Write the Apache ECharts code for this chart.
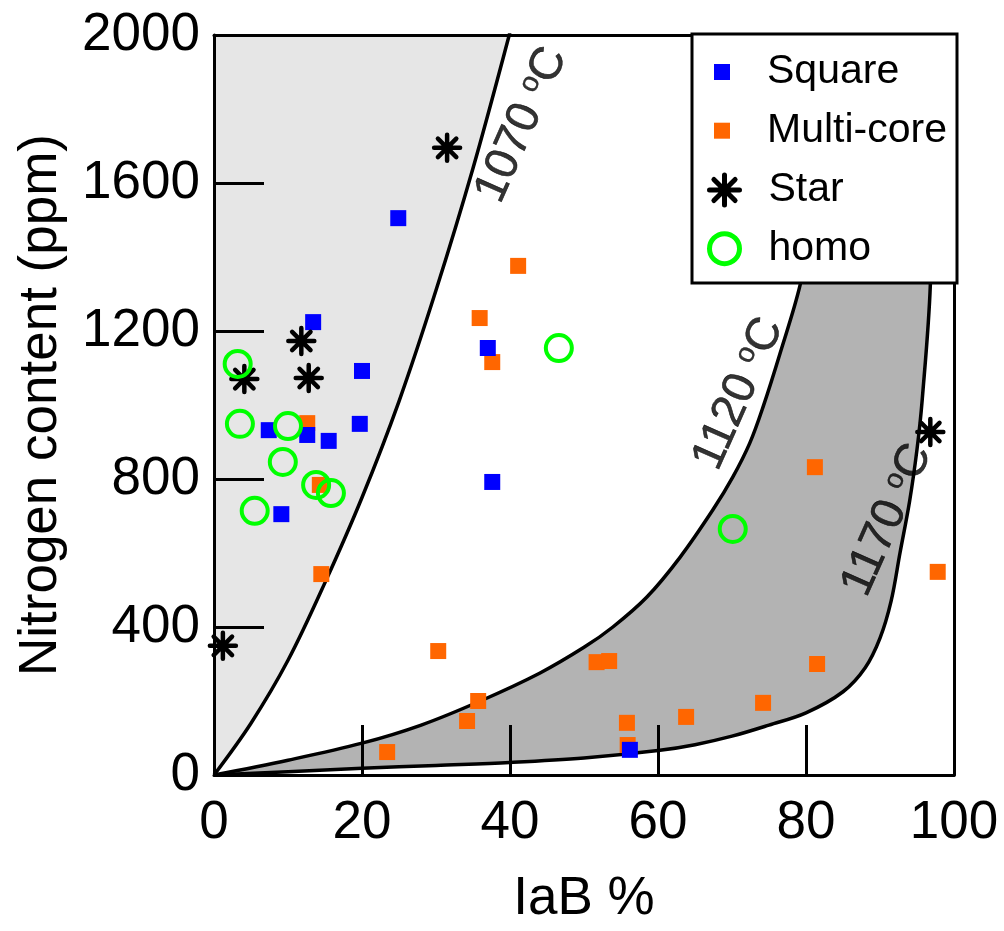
<!DOCTYPE html>
<html lang="en">
<head>
    <meta charset="UTF-8">
    <title>IaB vs nitrogen</title>
    <style>
        html, body { margin: 0; padding: 0; background: #fff; }
    </style>
</head>
<body>
<div id="chart" style="width: 1004px; height: 931px"></div>
<script src="https://cdn.jsdelivr.net/npm/echarts@6/dist/echarts.min.js"></script>
<script>
    // scatter data: [IaB %, N ppm]
    var squarePts = [[24.9,1505],[13.4,1224],[20.0,1092],[19.7,949],[7.4,932],[12.6,919],[15.5,903],[9.1,705],[37.0,1154],[37.6,792],[56.2,68]];
    var multiPts = [[41.1,1376],[35.9,1235],[37.6,1116],[12.6,951],[14.3,784],[14.5,543],[30.3,335],[35.7,200],[34.2,146],[23.4,62],
        [51.7,305],[53.4,308],[55.8,141],[55.9,81],[63.8,157],[74.2,195],[81.5,300],[81.2,832],[97.8,549]];
    var starPts = [[31.5,1695],[11.8,1173],[4.1,1070],[12.8,1073],[1.2,349],[96.8,927]];
    var homoPts = [[3.2,1111],[3.5,949],[10.0,943],[9.3,846],[13.8,784],[15.8,762],[5.5,714],[46.6,1154],[70.1,665]];

    // isotherms (past the top edge they run on outside the frame, clipped)
    var curve1070 = [[0,0],[5,140],[10,310],[15,520],[20,750],[25,1010],[30,1310],[35,1640],[39.9,2000],[41,2090],[100,2090]];
    var curve1120 = [[0,0],[10,40],[20,86],[28,135],[36,200],[44,275],[50,345],[53.9,400],[58.5,481],[63,589],[67.4,716],
        [70.1,805],[72.4,897],[74.2,995],[76.5,1140],[79.2,1324],[82,1600],[84.5,2000],[100,2000]];
    var curve1170 = [[0,0],[10,9],[20,18],[30,26],[40,34],[50,46],[60,66],[65,82],[70,105],[75,135],[80,168],[85,225],[88,290],[90,370],[91.5,470],
        [92.7,600],[94,740],[95,880],[95.7,1013],[96.8,1324],[97.5,2000],[100,2000]];
    var lightTop = [[0,2000],[39.9,2000]];

    var curveNames = ['1070', '1120', '1170'];
    var curveLabelPos = [[41.6,1757],[70.9,1030],[91.0,689]];

    var xTicks = [0, 20, 40, 60, 80, 100];
    var yTicks = [0, 400, 800, 1200, 1600, 2000];

    var FONT = "'Liberation Sans', Arial, sans-serif";
    var starPath = 'path://M0,10L20,10M10,0L10,20M2.93,2.93L17.07,17.07M17.07,2.93L2.93,17.07';

    var chart = echarts.init(document.getElementById('chart'));

    function curveSeries(name, data, fill) {
        return {
            name: name,
            type: 'line',
            data: data,
            z: 1,
            smooth: 0.35,
            symbol: 'none',
            silent: true,
            lineStyle: {color: '#000', width: 3.5},
            areaStyle: {color: fill, opacity: 1}
        };
    }

    var labelData = [];
    for (var i in curveNames) {
        labelData.push({name: curveNames[i], value: curveLabelPos[i]});
    }

    var option = {
        animation: false,
        backgroundColor: '#fff',
        textStyle: {fontFamily: FONT},
        grid: {left: 214, right: 50, top: 35, bottom: 156},
        xAxis: [{
            type: 'value', min: xTicks[0], max: xTicks[xTicks.length - 1], interval: 20, z: 2,
            name: 'IaB %', nameLocation: 'middle', nameGap: 98,
            nameTextStyle: {fontSize: 53, color: '#000', fontFamily: FONT},
            axisLine: {lineStyle: {color: '#000', width: 3}},
            axisTick: {inside: true, length: 50, lineStyle: {color: '#000', width: 3}},
            axisLabel: {fontSize: 53, color: '#000', margin: 22, fontFamily: FONT,
                formatter: function (v) { return String(v); }},
            splitLine: {show: false}
        }, {
            type: 'value', min: 0, max: 100, position: 'top', z: 2,
            axisLine: {onZero: false, lineStyle: {color: '#000', width: 3}},
            axisTick: {show: false}, axisLabel: {show: false}, splitLine: {show: false}
        }],
        yAxis: [{
            type: 'value', min: yTicks[0], max: yTicks[yTicks.length - 1], interval: 400, z: 2,
            name: 'Nitrogen content (ppm)', nameLocation: 'middle', nameGap: 146,
            nameTextStyle: {fontSize: 53, color: '#000', fontFamily: FONT},
            axisLine: {show: true, lineStyle: {color: '#000', width: 3}},
            axisTick: {show: true, inside: true, length: 50, lineStyle: {color: '#000', width: 3}},
            axisLabel: {fontSize: 53, color: '#000', margin: 14, fontFamily: FONT,
                formatter: function (v) { return String(v); }},
            splitLine: {show: false}
        }, {
            type: 'value', min: 0, max: 2000, position: 'right', z: 2,
            axisLine: {show: true, onZero: false, lineStyle: {color: '#000', width: 3}},
            axisTick: {show: false}, axisLabel: {show: false}, splitLine: {show: false}
        }],
        legend: [{
            data: ['Square', 'Multi-core'],
            orient: 'vertical', left: 714, top: 49, z: 5,
            padding: 0, itemGap: 12.7, itemWidth: 16, itemHeight: 16,
            textStyle: {fontSize: 41, color: '#000', lineHeight: 46, fontFamily: FONT, padding: [0, 0, 0, 32]}
        }, {
            data: [
                {name: 'Star', itemStyle: {borderWidth: 5, borderColor: '#000'}},
                {name: 'homo', itemStyle: {borderWidth: 5, borderColor: '#00ff00'}}
            ],
            orient: 'vertical', left: 707, top: 167, z: 5,
            padding: 0, itemGap: 12.7, itemWidth: 30, itemHeight: 30,
            textStyle: {fontSize: 41, color: '#000', lineHeight: 46, fontFamily: FONT, padding: [0, 0, 0, 24]}
        }],
        graphic: [{
            type: 'rect', z: 4, silent: true,
            shape: {x: 692, y: 34, width: 265, height: 249},
            style: {fill: '#fff', stroke: '#000', lineWidth: 3}
        }],
        series: [
            {
                name: 'lightTop', type: 'line', data: lightTop, z: 1, symbol: 'none', silent: true,
                lineStyle: {width: 0}, areaStyle: {color: '#e6e6e6', opacity: 1}
            },
            curveSeries('c1070', curve1070, '#ffffff'),
            curveSeries('c1120', curve1120, '#b3b3b3'),
            curveSeries('c1170', curve1170, '#ffffff'),
            {
                name: 'Multi-core', type: 'scatter', data: multiPts, z: 3,
                symbol: 'rect', symbolSize: 16,
                itemStyle: {color: '#ff6600', opacity: 1}
            },
            {
                name: 'Square', type: 'scatter', data: squarePts, z: 3,
                symbol: 'rect', symbolSize: 16,
                itemStyle: {color: '#0000ff', opacity: 1}
            },
            {
                name: 'Star', type: 'scatter', data: starPts, z: 3,
                symbol: starPath, symbolSize: 26,
                itemStyle: {color: '#000', borderColor: '#000', borderWidth: 4.5, borderCap: 'round', opacity: 1}
            },
            {
                name: 'homo', type: 'scatter', data: homoPts, z: 3,
                symbol: 'circle', symbolSize: 26,
                itemStyle: {color: 'rgba(0,0,0,0)', borderColor: '#00ff00', borderWidth: 4, opacity: 1}
            },
            {
                name: 'curveLabels', type: 'scatter', data: labelData, z: 3,
                symbolSize: 0, silent: true,
                label: {
                    show: true, position: 'inside', rotate: 66, color: '#000',
                    formatter: function (p) { return '{n|' + p.name + ' }{s|o}{n|C}'; },
                    rich: {
                        n: {fontSize: 46, color: '#000', fontFamily: FONT, textBorderColor: '#000', textBorderWidth: 0.6},
                        s: {fontSize: 28, color: '#000', fontFamily: FONT, verticalAlign: 'top', textBorderColor: '#000', textBorderWidth: 0.4}
                    }
                }
            }
        ]
    };
    chart.setOption(option);
</script>
</body>
</html>
